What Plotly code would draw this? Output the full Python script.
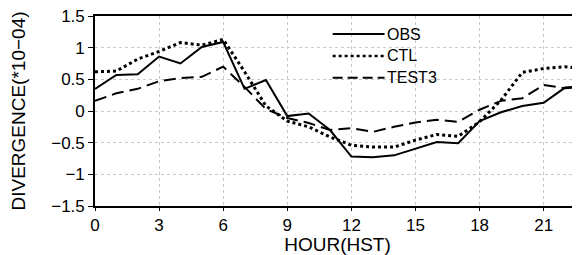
import plotly.graph_objects as go

hours = list(range(24))
obs = [0.35, 0.57, 0.58, 0.86, 0.75, 1.01, 1.09, 0.35, 0.49, -0.08, -0.04, -0.30,
       -0.72, -0.73, -0.70, -0.59, -0.49, -0.51, -0.16, -0.02, 0.08, 0.13, 0.37, 0.40]
ctl = [0.62, 0.63, 0.82, 0.94, 1.08, 1.04, 1.13, 0.62, 0.08, -0.16, -0.25, -0.41,
       -0.54, -0.57, -0.57, -0.46, -0.37, -0.40, -0.17, 0.17, 0.61, 0.67, 0.70, 0.66]
test3 = [0.16, 0.28, 0.35, 0.47, 0.52, 0.54, 0.70, 0.38, 0.03, -0.11, -0.19, -0.30,
         -0.27, -0.33, -0.25, -0.18, -0.14, -0.17, 0.02, 0.16, 0.20, 0.41, 0.36, 0.38]

series_names = ["OBS", "CTL", "TEST3"]
xticks = [0, 3, 6, 9, 12, 15, 18, 21]
yticks = [-1.5, -1, -0.5, 0, 0.5, 1, 1.5]
ytick_text = ["\u22121.5", "\u22121", "\u22120.5", "0", "0.5", "1", "1.5"]

font = "Liberation Sans, Arial, sans-serif"
styles = [dict(color="black", width=2, dash="solid"),
          dict(color="black", width=3, dash="dot"),
          dict(color="black", width=2, dash="12px,6px")]

fig = go.Figure()
for name, vals, st in zip(series_names, [obs, ctl, test3], styles):
    fig.add_trace(go.Scatter(x=hours, y=vals, mode="lines", name=name,
                             line=st, showlegend=False))

# legend drawn as line samples + labels (paper coordinates)
leg_y = [0.905, 0.79, 0.675]
for name, st, yy in zip(series_names, styles, leg_y):
    fig.add_shape(type="line", xref="paper", yref="paper",
                  x0=0.49, x1=0.597, y0=yy, y1=yy,
                  line=dict(color="black", width=st["width"] if st["dash"] != "dot" else 2.5,
                            dash=st["dash"] if st["dash"] != "12px,6px" else "10px,5px"))
    fig.add_annotation(text=name, xref="paper", yref="paper", x=0.598, y=yy,
                       xanchor="left", yanchor="middle", showarrow=False,
                       font=dict(size=16, family=font, color="black"))

fig.update_layout(
    width=572, height=247,
    margin=dict(l=87, r=0, t=8, b=49),
    paper_bgcolor="white", plot_bgcolor="white",
    font=dict(family=font, color="black"),
    showlegend=False,
    xaxis=dict(range=[0, 22.7], tickmode="array", tickvals=xticks,
               ticktext=[str(v) for v in xticks],
               showgrid=True, gridcolor="#c8c8c8", griddash="dot", gridwidth=1,
               showline=True, linecolor="black", linewidth=1.6, mirror=True,
               ticks="outside", ticklen=3, tickcolor="black",
               tickfont=dict(size=17, family=font),
               title=dict(text="HOUR(HST)", font=dict(size=19, family=font), standoff=2),
               zeroline=False, automargin=False),
    yaxis=dict(range=[-1.5, 1.5], tickmode="array", tickvals=yticks,
               ticktext=ytick_text, ticklabeloverflow="allow",
               showgrid=True, gridcolor="#c8c8c8", griddash="dot", gridwidth=1,
               showline=True, linecolor="black", linewidth=1.6, mirror=True,
               ticks="outside", ticklen=5, tickcolor="black",
               tickfont=dict(size=17, family=font),
               title=dict(text="DIVERGENCE(*10\u221204)", font=dict(size=19, family=font), standoff=22),
               zeroline=False, automargin=False),
)

fig.write_html("out.html")
